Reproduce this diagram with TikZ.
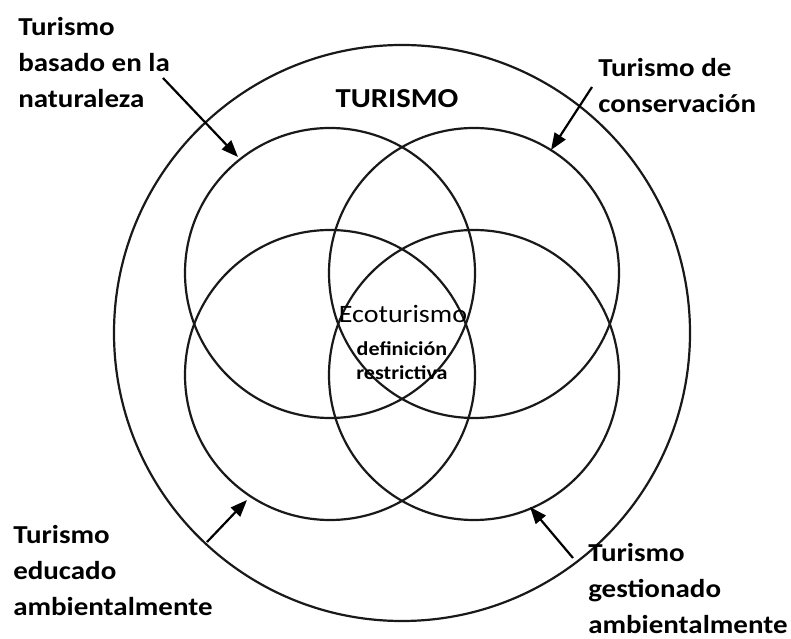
\documentclass[tikz,border=0pt]{standalone}
\usepackage{fontspec}
\setmainfont{Carlito}[FakeStretch=1.12]
\usetikzlibrary{arrows.meta}

\tikzset{
	ring/.style={line width=0.55mm, color=black!90},
	sidetext/.style={font=\bfseries\fontsize{18.4}{25.5}\selectfont, align=left, inner sep=0pt, anchor=north west},
	pointer/.style={line width=0.55mm, -{Triangle[length=4.2mm, width=3.2mm]}},
}

\begin{document}
\begin{tikzpicture}
		%%%%% START %%%%%
		
		\useasboundingbox (0, 0) rectangle (19.775, -15.975);
		
		\draw[ring] (10.05, -8.325) circle (7.2);
		
		\draw[ring] (8.25, -6.825) circle (3.625);
		\draw[ring] (11.85, -6.825) circle (3.625);
		\draw[ring] (8.25, -9.375) circle (3.625);
		\draw[ring] (11.85, -9.375) circle (3.625);
		
		\node[font=\bfseries\fontsize{19.5}{23}\selectfont, anchor=base] (tur) at (9.925, -2.7) {TURISMO};
		\node[font=\fontsize{17.8}{21}\selectfont, anchor=base] (eco) at (10.075, -8.075) {Ecoturismo};
		\node[font=\bfseries\fontsize{14}{17}\selectfont, anchor=base] (def) at (10.05, -8.9) {definición};
		\node[font=\bfseries\fontsize{14}{17}\selectfont, anchor=base] (res) at (10.05, -9.5) {restrictiva};
		
		\node[sidetext] (nat) at (0.45, -0.435) {Turismo\\basado en la\\naturaleza};
		\node[sidetext] (con) at (14.95, -1.45) {Turismo de\\conservación};
		\node[sidetext] (edu) at (0.325, -13.135) {Turismo\\educado\\ambientalmente};
		\node[sidetext] (ges) at (14.7, -13.58) {Turismo\\gestionado\\ambientalmente};
		
		\coordinate (natfrom) at (4.075, -1.95);
		\coordinate (natto) at (5.95, -3.925);
		\coordinate (confrom) at (14.8, -2.175);
		\coordinate (conto) at (13.775, -3.75);
		\coordinate (edufrom) at (5.175, -13.55);
		\coordinate (eduto) at (6.175, -12.5);
		\coordinate (gesfrom) at (14.325, -13.95);
		\coordinate (gesto) at (13.25, -12.675);
		
		\draw[pointer] (natfrom) -- (natto);
		\draw[pointer] (confrom) -- (conto);
		\draw[pointer] (edufrom) -- (eduto);
		\draw[pointer] (gesfrom) -- (gesto);
		
		%%%%% END %%%%%
\end{tikzpicture}
\end{document}
